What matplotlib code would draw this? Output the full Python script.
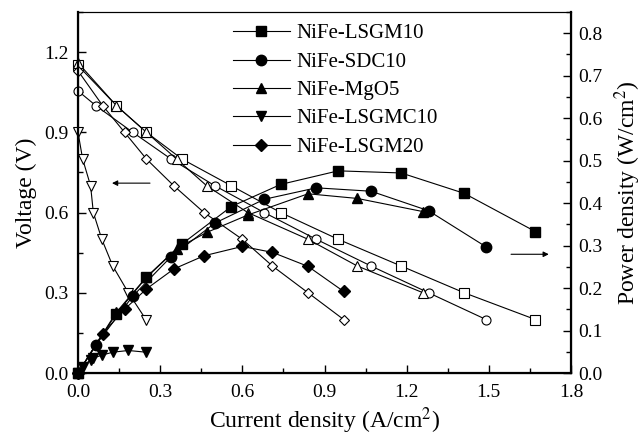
import matplotlib
matplotlib.use('Agg')
import matplotlib.pyplot as plt
from matplotlib.ticker import MultipleLocator

plt.rcParams['font.family'] = ['Liberation Serif', 'DejaVu Serif']
plt.rcParams['mathtext.fontset'] = 'stix'

labels = ['NiFe-LSGM10', 'NiFe-SDC10', 'NiFe-MgO5', 'NiFe-LSGMC10', 'NiFe-LSGM20']
markers = ['s', 'o', '^', 'v', 'D']

# current density (A/cm2) for each cell
i_lsgm10 = [0, 0.14, 0.25, 0.38, 0.56, 0.74, 0.95, 1.18, 1.41, 1.67]
i_sdc10 = [0, 0.065, 0.20, 0.34, 0.50, 0.68, 0.87, 1.07, 1.28, 1.49]
i_mgo5 = [0, 0.14, 0.25, 0.36, 0.47, 0.62, 0.84, 1.02, 1.26]
i_lsgmc10 = [0, 0.017, 0.046, 0.056, 0.087, 0.127, 0.184, 0.248]
i_lsgm20 = [0, 0.09, 0.17, 0.25, 0.35, 0.46, 0.60, 0.71, 0.84, 0.97]

# voltage (V)
v_lsgm10 = [1.15, 1.0, 0.9, 0.8, 0.7, 0.6, 0.5, 0.4, 0.3, 0.2]
v_sdc10 = [1.055, 1.0, 0.9, 0.8, 0.7, 0.6, 0.5, 0.4, 0.3, 0.2]
v_mgo5 = [1.16, 1.0, 0.9, 0.8, 0.7, 0.6, 0.5, 0.4, 0.3]
v_lsgmc10 = [0.90, 0.80, 0.70, 0.60, 0.50, 0.40, 0.30, 0.20]
v_lsgm20 = [1.13, 1.0, 0.9, 0.8, 0.7, 0.6, 0.5, 0.4, 0.3, 0.2]

# power density (W/cm2)
p_lsgm10 = [0, 0.14, 0.225, 0.304, 0.392, 0.444, 0.476, 0.471, 0.423, 0.333]
p_sdc10 = [0, 0.066, 0.181, 0.274, 0.353, 0.409, 0.436, 0.428, 0.382, 0.297]
p_mgo5 = [0, 0.143, 0.226, 0.293, 0.331, 0.372, 0.422, 0.411, 0.380]
p_lsgmc10 = [0, 0.015, 0.031, 0.035, 0.042, 0.049, 0.053, 0.049]
p_lsgm20 = [0, 0.093, 0.150, 0.198, 0.245, 0.276, 0.298, 0.284, 0.251, 0.192]

currents = [i_lsgm10, i_sdc10, i_mgo5, i_lsgmc10, i_lsgm20]
voltages = [v_lsgm10, v_sdc10, v_mgo5, v_lsgmc10, v_lsgm20]
powers = [p_lsgm10, p_sdc10, p_mgo5, p_lsgmc10, p_lsgm20]

fig = plt.figure(figsize=(6.43, 4.42), dpi=100)
ax = fig.add_axes([78 / 643, 1 - 373 / 442, 493 / 643, 361 / 442])
ax2 = ax.twinx()

for i_, v_, m in zip(currents, voltages, markers):
    ax.plot(i_, v_, color='black', lw=0.8, marker=m, ms=6.5 if m != 'D' else 5.5,
            mfc='white', mec='black', mew=0.8, clip_on=False)

handles = []
for i_, p_, m, lab in zip(currents, powers, markers, labels):
    h, = ax2.plot(i_, p_, color='black', lw=0.8, marker=m, ms=7.5 if m != 'D' else 6.5,
                  mfc='black', mec='black', label=lab, clip_on=False)
    handles.append(h)

ax.set_xlim(0, 1.8)
ax.set_ylim(0, 1.35)
ax2.set_ylim(0, 0.85)

ax.xaxis.set_major_locator(MultipleLocator(0.3))
ax.xaxis.set_minor_locator(MultipleLocator(0.15))
ax.yaxis.set_major_locator(MultipleLocator(0.3))
ax.yaxis.set_minor_locator(MultipleLocator(0.15))
ax2.yaxis.set_major_locator(MultipleLocator(0.1))
ax2.yaxis.set_minor_locator(MultipleLocator(0.05))
ax.xaxis.set_major_formatter(plt.FormatStrFormatter('%.1f'))
ax.yaxis.set_major_formatter(plt.FormatStrFormatter('%.1f'))
ax2.yaxis.set_major_formatter(plt.FormatStrFormatter('%.1f'))

ax.tick_params(axis='both', which='both', direction='in', labelsize=14, top=False)
ax.tick_params(axis='x', pad=8)
ax.tick_params(axis='y', pad=7)
ax.tick_params(which='major', length=6, width=1)
ax.tick_params(which='minor', length=3.5, width=1)
ax2.tick_params(axis='y', which='both', direction='in', labelsize=14, pad=5)
ax2.tick_params(which='major', length=6, width=1)
ax2.tick_params(which='minor', length=3.5, width=1)

for sp in ['left', 'bottom', 'right']:
    ax2.spines[sp].set_linewidth(1.6)
ax2.spines['top'].set_linewidth(0.8)

ax.set_xlabel('Current density (A/cm$^2$)', fontsize=17, labelpad=3)
ax.set_ylabel('Voltage (V)', fontsize=17, labelpad=5)
ax2.set_ylabel('Power density (W/cm$^2$)', fontsize=17, labelpad=7)

# arrows pointing to the axis each family belongs to
ax.annotate('', xy=(0.114, 0.71), xytext=(0.273, 0.71),
            arrowprops=dict(arrowstyle='-|>', color='black', lw=0.8, mutation_scale=8))
ax.annotate('', xy=(1.729, 0.444), xytext=(1.571, 0.444),
            arrowprops=dict(arrowstyle='-|>', color='black', lw=0.8, mutation_scale=8))

ax2.legend(handles=handles, loc='upper left', bbox_to_anchor=(0.314, 0.967), frameon=False,
           fontsize=15, handlelength=2.75, handletextpad=0.32, labelspacing=0.42,
           borderaxespad=0, borderpad=0)

fig.savefig('out.png', dpi=100)
